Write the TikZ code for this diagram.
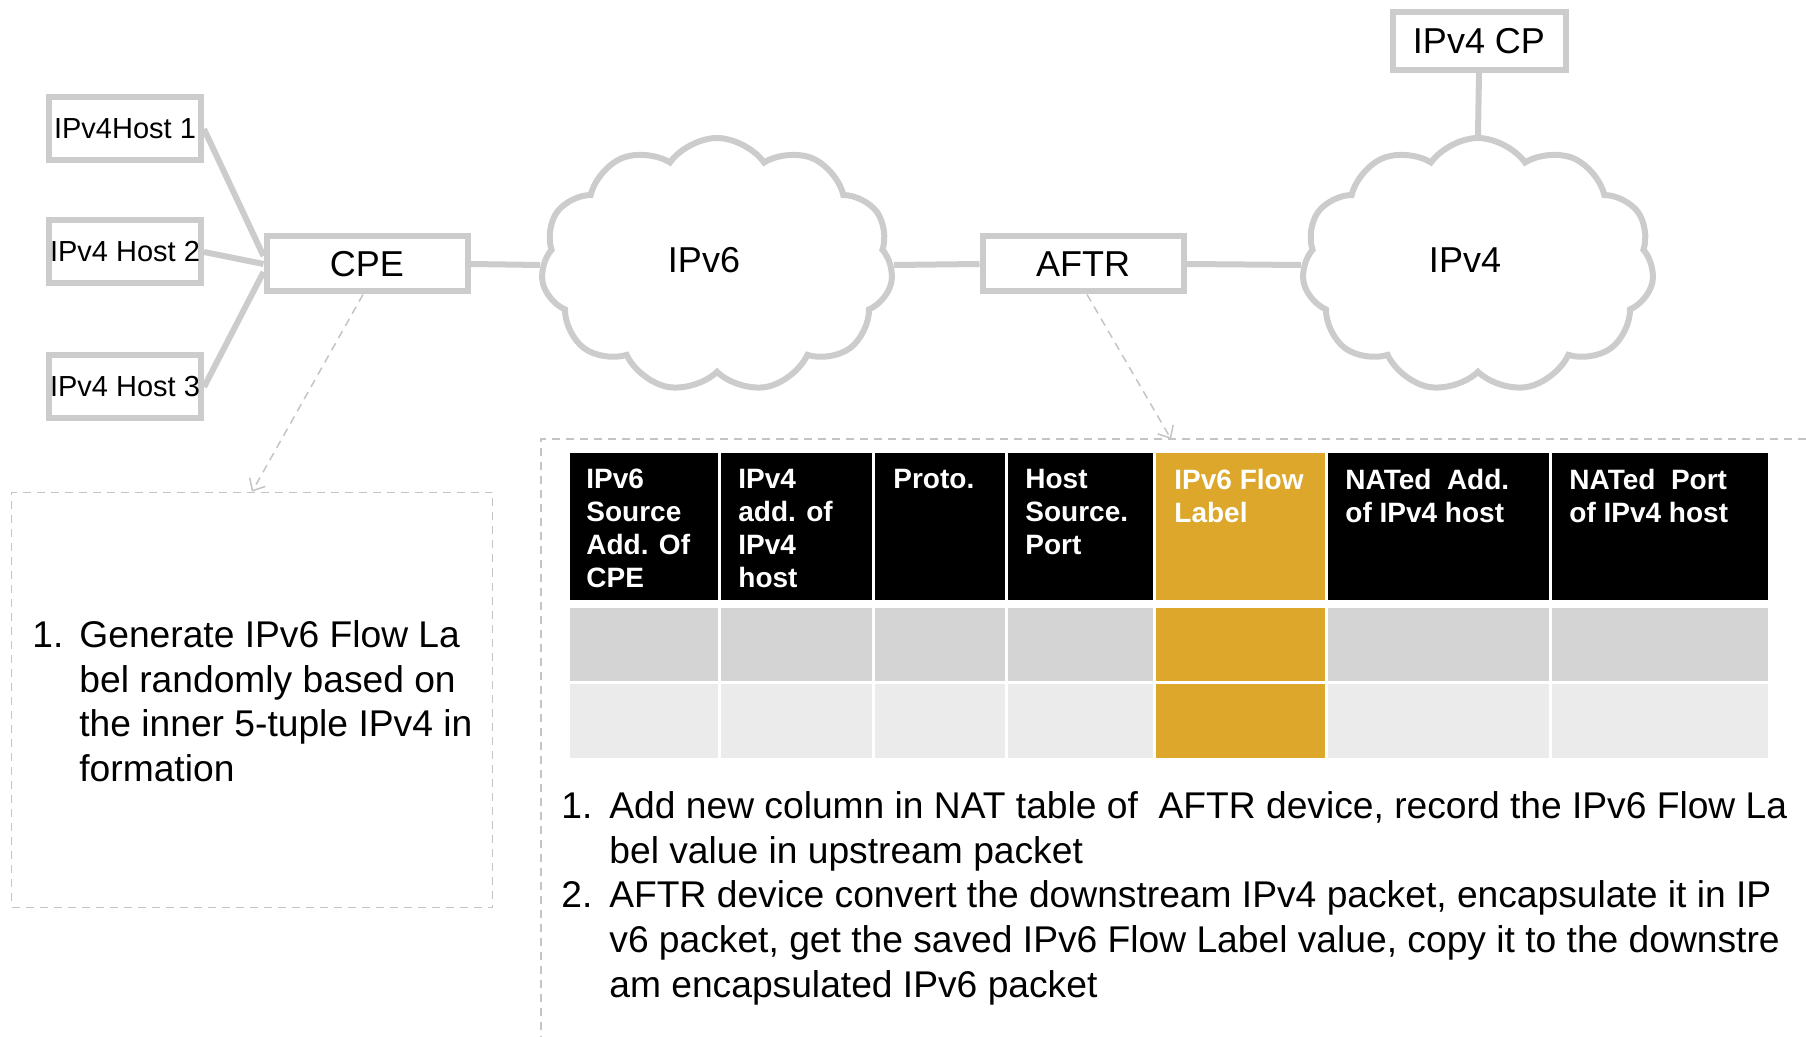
\documentclass[tikz,border=0pt]{standalone}
\usepackage{fontspec}
\setmainfont{Liberation Sans}
\usetikzlibrary{positioning, shapes.symbols, arrows.meta}

\definecolor{linegray}{RGB}{204,204,204}
\definecolor{dashgray}{RGB}{196,196,196}
\definecolor{flowgold}{RGB}{220,167,42}
\definecolor{rowdark}{RGB}{212,212,212}
\definecolor{rowlight}{RGB}{235,235,235}

\tikzset{
  box/.style={draw=linegray, line width=3pt, fill=white, inner sep=0pt,
    minimum width=100.5pt, minimum height=27.5pt, font=\fontsize{18}{22}\selectfont},
  hostbox/.style={box, minimum width=76pt, minimum height=31.5pt,
    font=\fontsize{14.5}{17}\selectfont},
  netcloud/.style={cloud, draw=linegray, line width=3pt, fill=white, cloud puffs=11,
    cloud puff arc=110, aspect=1.4, minimum width=176pt, minimum height=127pt,
    font=\fontsize{18}{22}\selectfont},
  link/.style={linegray, line width=3pt},
  hint/.style={dashgray, line width=0.75pt, dash pattern=on 4pt off 3pt},
  hdr/.style={anchor=north west, inner sep=0pt, align=left, text=white,
    font=\fontsize{14}{16.5}\selectfont\bfseries},
  note/.style={anchor=north west, inner sep=0pt, font=\fontsize{18.6}{22.3}\selectfont}
}

\begin{document}
\begin{tikzpicture}[x=0.5pt, y=-0.5pt, >={Straight Barb[length=5pt, width=9pt]}]
  \useasboundingbox (0,0) rectangle (1806,1037);

  % hosts and devices
  \node (h1) at (125,129) [hostbox] {IPv4Host 1};
  \node (h2) at (125,252) [hostbox] {IPv4 Host 2};
  \node (h3) at (125,387) [hostbox] {IPv4 Host 3};
  \node (cpe) at (367,264) [box] {CPE};
  \node (v6) at (717,265) [netcloud,
    label={[xshift=-6.5pt, yshift=2.5pt, font=\fontsize{18}{22}\selectfont]center:IPv6}] {};
  \node (aftr) at (1083,264) [box] {AFTR};
  \node (v4) at (1478,265) [netcloud,
    label={[xshift=-6.5pt, yshift=2.5pt, font=\fontsize{18}{22}\selectfont]center:IPv4}] {};
  \node (cp) at (1479,41) [box, minimum width=86.5pt, minimum height=29pt] {IPv4 CP};

  \draw [link] (h1.east) -- ([yshift=4pt]cpe.west);
  \draw [link] (h2.east) -- (cpe.west);
  \draw [link] (h3.east) -- ([yshift=-4pt]cpe.west);
  \draw [link] (cpe.east) -- (v6.west);
  \draw [link] (v6.east) -- (aftr.west);
  \draw [link] (aftr.east) -- (v4.west);
  \draw [link] (cp.south) -- (v4.north);

  % note for the CPE
  \node (cpenote) at (252,700) [draw=dashgray, line width=0.75pt, dash pattern=on 4pt off 3pt,
    minimum width=240.5pt, minimum height=207.5pt] {};
  \node (cpetext) at (32,616) [note]
    {\begin{tabular}{@{}p{23.5pt}@{}l@{}}
      1. & Generate IPv6 Flow La\\
         & bel randomly based on\\
         & the inner 5-tuple IPv4 in\\
         & formation
    \end{tabular}};
  \draw [hint, ->] ([xshift=-2pt]cpe.south) -- (cpenote.north);

  % NAT table of the AFTR
  \draw [hint] (1806,439) -- (541,439) -- (541,1037);
  \coordinate (tabtop) at (1171,439);
  \draw [hint, ->] ([xshift=2pt]aftr.south) -- (tabtop);

  \foreach \xa/\xb/\hc/\ra/\rb in {568/719/black/rowdark/rowlight,
      719/873/black/rowdark/rowlight, 873/1006/black/rowdark/rowlight,
      1006/1154/black/rowdark/rowlight, 1154/1326/flowgold/flowgold/flowgold,
      1326/1550/black/rowdark/rowlight, 1550/1769/black/rowdark/rowlight}
  {
    \fill [\hc] (\xa+1.5,453) rectangle (\xb-1.5,600);
    \fill [\ra] (\xa+1.5,608) rectangle (\xb-1.5,681);
    \fill [\rb] (\xa+1.5,684) rectangle (\xb-1.5,758);
  }
  \node (c1) at (586,469) [hdr] {IPv6\\Source\\Add. Of\\CPE};
  \node (c2) at (738,469) [hdr] {IPv4\\add. of\\IPv4\\host};
  \node (c3) at (893,469) [hdr] {Proto.};
  \node (c4) at (1025,469) [hdr] {Host\\Source.\\Port};
  \node (c5) at (1174,469) [hdr] {IPv6 Flow\\Label};
  \node (c6) at (1345,469) [hdr] {NATed~ Add.\\of IPv4 host};
  \node (c7) at (1569,469) [hdr] {NATed~ Port\\of IPv4 host};

  \node (aftrtext) at (561,787) [note]
    {\begin{tabular}{@{}p{24pt}@{}l@{}}
      1. & Add new column in NAT table of~ AFTR device, record the IPv6 Flow La\\
         & bel value in upstream packet\\
      2. & AFTR device convert the downstream IPv4 packet, encapsulate it in IP\\
         & v6 packet, get the saved IPv6 Flow Label value, copy it to the downstre\\
         & am encapsulated IPv6 packet
    \end{tabular}};
\end{tikzpicture}
\end{document}
